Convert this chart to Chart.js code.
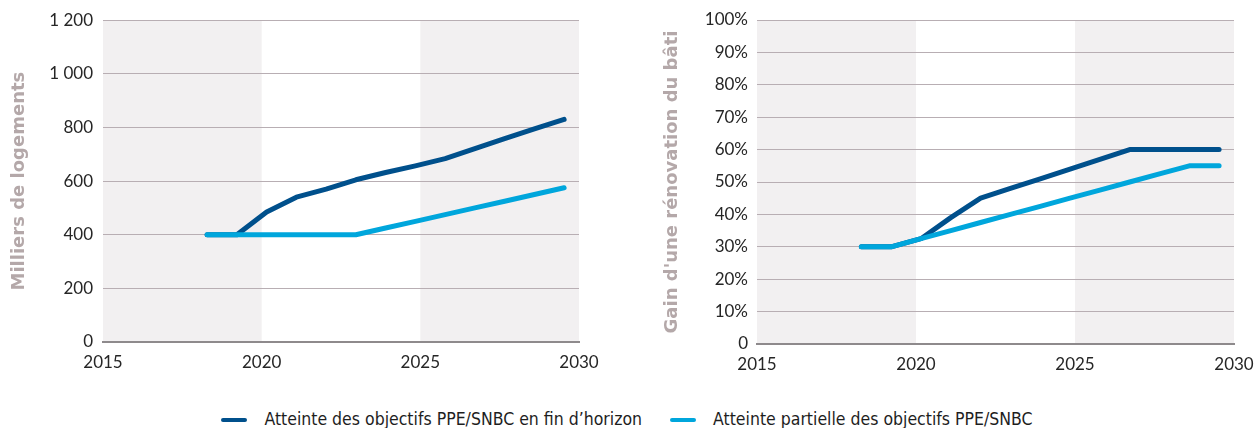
<!DOCTYPE html>
<html lang="fr">
<head>
<meta charset="utf-8">
<title>Rénovation du parc de logements</title>
<script src="https://cdn.jsdelivr.net/npm/chart.js@4.4.1/dist/chart.umd.min.js"></script>
<style>
  html, body { margin: 0; padding: 0; background: #ffffff; }
  body { width: 1254px; height: 428px; position: relative; overflow: hidden; }
  #logements { position: absolute; left: 0; top: 0; }
  #gain { position: absolute; left: 627px; top: 0; }
  #legende {
    position: absolute; left: 0; top: 407px; width: 1254px; height: 24px;
    display: flex; justify-content: center; align-items: center;
    font-family: "DejaVu Sans Condensed", "DejaVu Sans", sans-serif;
    font-size: 17.5px; color: #1e1e1e;
  }
  .item { display: flex; align-items: center; }
  .item + .item { margin-left: 28px; }
  .trait { width: 26px; height: 4px; border-radius: 2px; margin-right: 17px; margin-top: 2px; }
</style>
</head>
<body>
<canvas id="logements" width="627" height="380"></canvas>
<canvas id="gain" width="627" height="380"></canvas>
<div id="legende"></div>
<script>
// Période affichée et années des trajectoires
const periode = [2015, 2016, 2017, 2018, 2019, 2020, 2021, 2022, 2023, 2024, 2025, 2026, 2027, 2028, 2029, 2030];
const annees = [2018, 2019, 2020, 2021, 2022, 2023, 2024, 2025, 2026, 2027, 2028, 2029, 2030];
// Sous-périodes grisées
const periodesGrisees = [[2015, 2020], [2025, 2030]];

// Rénovations annuelles (milliers de logements)
const logementsObjectifs = [400, 400, 485, 540, 570, 605, 632, 657, 684, 721, 758, 795, 830];
const logementsPartiels  = [400, 400, 400, 400, 400, 400, 425, 450, 475, 500, 525, 550, 575];

// Gain énergétique moyen d'une rénovation
const gainObjectifs = [0.30, 0.30, 0.325, 0.39, 0.45, 0.48, 0.51, 0.54, 0.57, 0.60, 0.60, 0.60, 0.60];
const gainPartiels  = [0.30, 0.30, 0.325, 0.35, 0.375, 0.40, 0.425, 0.45, 0.475, 0.50, 0.525, 0.55, 0.55];

// Libellés des axes
const ticksLogements = ['0', '200', '400', '600', '800', '1 000', '1 200'];
const ticksGain = ['0', '10%', '20%', '30%', '40%', '50%', '60%', '70%', '80%', '90%', '100%'];
const ticksAnnees = ['2015', '2020', '2025', '2030'];

const series = [
  { nom: "Atteinte des objectifs PPE/SNBC en fin d\u2019horizon", couleur: '#00508c' },
  { nom: 'Atteinte partielle des objectifs PPE/SNBC', couleur: '#00a6dc' }
];

const COULEUR_GRILLE = '#b8aeb3';
const COULEUR_FOND = '#f2f0f1';
const POLICE_TICKS = { family: 'Lato, "Open Sans", sans-serif', size: 17 };

// Bandes de fond sous la grille
const bandes = {
  id: 'bandes',
  beforeDraw(chart) {
    const { ctx, chartArea, scales } = chart;
    ctx.save();
    ctx.fillStyle = COULEUR_FOND;
    periodesGrisees.forEach(([a, b]) => {
      const x0 = scales.x.getPixelForValue(a);
      const x1 = scales.x.getPixelForValue(b);
      ctx.fillRect(x0, chartArea.top, x1 - x0, chartArea.bottom - chartArea.top);
    });
    ctx.restore();
  }
};

function points(valeurs) {
  return annees.map((a, i) => ({ x: a, y: valeurs[i] }));
}

function ligne(serie, valeurs, ordre) {
  return {
    label: serie.nom,
    data: points(valeurs),
    xAxisID: 'xs',
    borderColor: serie.couleur,
    backgroundColor: serie.couleur,
    borderWidth: 5,
    borderCapStyle: 'round',
    borderJoinStyle: 'round',
    pointRadius: 0,
    tension: 0,
    order: ordre
  };
}

function graphique(id, cfg) {
  return new Chart(document.getElementById(id), {
    type: 'line',
    data: {
      datasets: [
        ligne(series[0], cfg.objectifs, 1),
        ligne(series[1], cfg.partiels, 0)
      ]
    },
    plugins: [bandes],
    options: {
      responsive: false,
      animation: false,
      events: [],
      layout: { padding: { top: cfg.haut, right: cfg.droite, bottom: 0, left: 0 } },
      plugins: { legend: { display: false }, tooltip: { enabled: false } },
      scales: {
        x: {
          type: 'linear',
          min: periode[0], max: periode[periode.length - 1],
          afterBuildTicks(s) { s.ticks = ticksAnnees.map(t => ({ value: Number(t) })); },
          afterFit(s) { s.height = cfg.hauteurX; s.paddingLeft = 0; s.paddingRight = 0; },
          grid: { display: false, drawTicks: false },
          border: { display: true, color: '#8e8a8c', width: 2 },
          ticks: {
            padding: 10, color: '#262626', font: POLICE_TICKS, maxRotation: 0,
            callback: (v) => String(v)
          }
        },
        xs: {
          type: 'category',
          labels: periode,
          offset: true,
          display: false
        },
        y: {
          min: cfg.min, max: cfg.max,
          afterBuildTicks(s) { s.ticks = cfg.ticks.map((t, i) => ({ value: cfg.min + i * cfg.pas })); },
          afterFit(s) { s.width = cfg.largeurY; },
          grid: { color: COULEUR_GRILLE, lineWidth: 1, drawTicks: false },
          border: { display: false },
          ticks: {
            padding: cfg.ecartTicks, color: '#262626', font: POLICE_TICKS,
            callback: (v, i) => cfg.ticks[i]
          },
          title: {
            display: true, text: cfg.titre, color: '#b4a8a9',
            font: { family: '"DejaVu Sans", sans-serif', size: 18, weight: 'bold', lineHeight: 1.2 },
            padding: { top: cfg.ecartTitre, bottom: 0 }
          }
        }
      }
    }
  });
}

graphique('logements', {
  objectifs: logementsObjectifs, partiels: logementsPartiels,
  min: 0, max: 1200, pas: 200, ticks: ticksLogements,
  titre: 'Milliers de logements',
  haut: 17, droite: 48, hauteurX: 38, largeurY: 103, ecartTicks: 10, ecartTitre: 9
});

graphique('gain', {
  objectifs: gainObjectifs, partiels: gainPartiels,
  min: 0, max: 1, pas: 0.1, ticks: ticksGain,
  titre: "Gain d'une rénovation du bâti",
  haut: 20, droite: 20, hauteurX: 36, largeurY: 130, ecartTicks: 9, ecartTitre: 35
});

// Légende commune aux deux graphiques
const legende = document.getElementById('legende');
series.forEach(s => {
  const item = document.createElement('div');
  item.className = 'item';
  const trait = document.createElement('span');
  trait.className = 'trait';
  trait.style.background = s.couleur;
  const texte = document.createElement('span');
  texte.textContent = s.nom;
  item.appendChild(trait);
  item.appendChild(texte);
  legende.appendChild(item);
});
</script>
</body>
</html>
